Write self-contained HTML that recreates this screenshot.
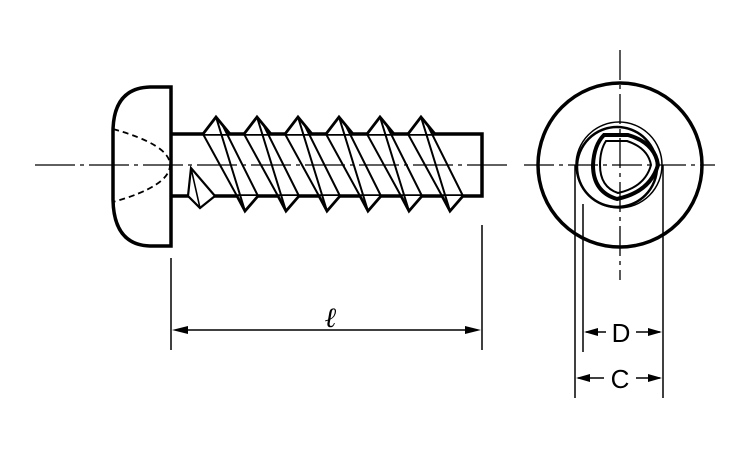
<!DOCTYPE html>
<html><head><meta charset="utf-8"><style>html,body{margin:0;padding:0;background:#fff}svg{display:block}</style></head>
<body>
<svg width="750" height="450" viewBox="0 0 750 450" xmlns="http://www.w3.org/2000/svg" fill="none" stroke="#000" stroke-linejoin="miter">
<line x1="35" y1="165" x2="512" y2="165" stroke-width="1.3" stroke-dasharray="40,5,4,5"/>
<path d="M171,87 L150,87 Q114,88 113,130 L113,200 Q114,245 150,246 L171,246 Z" stroke-width="3.5"/>
<path d="M113,129 Q170,145 170,165 Q170,186 113,202" stroke-width="1.8" stroke-dasharray="6,4"/>
<path d="M171,134 L482,134 L482,196 L171,196" stroke-width="3.5"/>
<path d="M191,168 L188,196 L200,208 L215,196 Z" stroke-width="2.2" fill="#fff"/>
<path d="M191,168 L200,208" stroke-width="1.6"/>
<g stroke-width="2.8" fill="#fff">
<path d="M203,134 L216,117 L230,134"/><path d="M237,196 L245,211 L258,196"/>
<path d="M244,134 L257,117 L271,134"/><path d="M278,196 L286,211 L299,196"/>
<path d="M285,134 L298,117 L312,134"/><path d="M319,196 L327,211 L340,196"/>
<path d="M326,134 L339,117 L353,134"/><path d="M360,196 L368,211 L381,196"/>
<path d="M367,134 L380,117 L394,134"/><path d="M401,196 L409,211 L422,196"/>
<path d="M408,134 L421,117 L435,134"/><path d="M442,196 L450,211 L463,196"/>
</g>
<g stroke-width="2">
<path d="M203,134 L237,196 M216,117 L245,211 M222,124 L258,196"/>
<path d="M244,134 L278,196 M257,117 L286,211 M263,124 L299,196"/>
<path d="M285,134 L319,196 M298,117 L327,211 M304,124 L340,196"/>
<path d="M326,134 L360,196 M339,117 L368,211 M345,124 L381,196"/>
<path d="M367,134 L401,196 M380,117 L409,211 M386,124 L422,196"/>
<path d="M408,134 L442,196 M421,117 L450,211 M427,124 L463,196"/>
</g>
<line x1="171" y1="258" x2="171" y2="350" stroke-width="1.5"/>
<line x1="482" y1="225" x2="482" y2="350" stroke-width="1.5"/>
<line x1="180" y1="330" x2="472" y2="330" stroke-width="1.5"/>
<path d="M172,330 L188,326 L188,334 Z M481,330 L465,326 L465,334 Z" fill="#000" stroke="none"/>
<text x="331" y="327" font-family="Liberation Serif, serif" font-style="italic" font-weight="bold" font-size="28" fill="#000" stroke="none" text-anchor="middle">ℓ</text>
<line x1="524" y1="165" x2="715" y2="165" stroke-width="1.3" stroke-dasharray="30,5,4,5"/>
<line x1="620" y1="50" x2="620" y2="280" stroke-width="1.3" stroke-dasharray="30,5,4,5"/>
<circle cx="620" cy="165" r="82" stroke-width="3.5"/>
<circle cx="619" cy="165" r="43" stroke-width="1.5"/>
<circle cx="617" cy="167" r="40" stroke-width="2.5"/>
<path d="M604,135 L628,135 Q655,143 658,165 Q650,192 617,199 Q593,192 593,165 Q594,145 604,135 Z" stroke-width="4"/>
<path d="M606,141 L627,141 Q648,148 651,165 Q645,187 618,193 Q600,187 600,165 Q600,150 606,141 Z" stroke-width="2"/>
<line x1="575" y1="165" x2="575" y2="398" stroke-width="1.5"/>
<line x1="583" y1="204" x2="583" y2="352" stroke-width="1.5"/>
<line x1="663" y1="165" x2="663" y2="398" stroke-width="1.5"/>
<line x1="586" y1="332" x2="606" y2="332" stroke-width="1.5"/>
<line x1="636" y1="332" x2="660" y2="332" stroke-width="1.5"/>
<path d="M584,332 L598,328 L598,336 Z M662,332 L648,328 L648,336 Z" fill="#000" stroke="none"/>
<line x1="578" y1="378" x2="604" y2="378" stroke-width="1.5"/>
<line x1="636" y1="378" x2="660" y2="378" stroke-width="1.5"/>
<path d="M576,378 L590,374 L590,382 Z M662,378 L648,374 L648,382 Z" fill="#000" stroke="none"/>
<text x="621" y="342" font-family="Liberation Sans, sans-serif" font-size="26" fill="#000" stroke="none" text-anchor="middle">D</text>
<text x="620" y="388" font-family="Liberation Sans, sans-serif" font-size="26" fill="#000" stroke="none" text-anchor="middle">C</text>
</svg>
</body></html>
